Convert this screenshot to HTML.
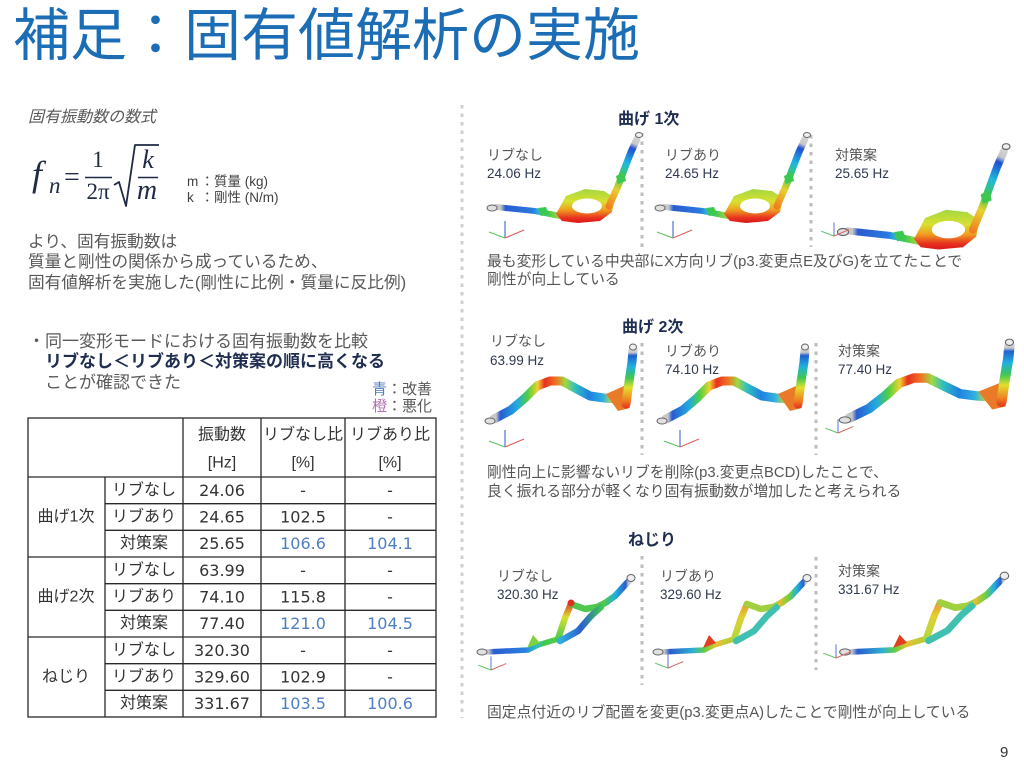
<!DOCTYPE html>
<html><head><meta charset="utf-8">
<style>
html,body{margin:0;padding:0;background:#fff;}
body{width:1024px;height:768px;position:relative;overflow:hidden;font-family:"Liberation Sans","Noto Sans CJK JP",sans-serif;}
.t{position:absolute;white-space:nowrap;line-height:1;}
svg{position:absolute;left:0;top:0;}
</style></head><body>
<svg width="1024" height="768" viewBox="0 0 1024 768">
<defs>
<linearGradient id="b1low" gradientUnits="userSpaceOnUse" x1="490" y1="0" x2="560" y2="0">
<stop offset="0" stop-color="#c8c8c8"/><stop offset="0.15" stop-color="#c8c8c8"/><stop offset="0.22" stop-color="#2a5cd0"/><stop offset="0.6" stop-color="#2a78e0"/><stop offset="0.72" stop-color="#30c0d0"/><stop offset="0.82" stop-color="#40c850"/><stop offset="1" stop-color="#a8d840"/>
</linearGradient>
<linearGradient id="b1ring" gradientUnits="userSpaceOnUse" x1="0" y1="190" x2="0" y2="223">
<stop offset="0" stop-color="#a8d840"/><stop offset="0.35" stop-color="#d8e030"/><stop offset="0.6" stop-color="#f0a020"/><stop offset="0.85" stop-color="#e83020"/><stop offset="1" stop-color="#d81818"/>
</linearGradient>
<linearGradient id="b1up" gradientUnits="userSpaceOnUse" x1="608" y1="208" x2="640" y2="134">
<stop offset="0" stop-color="#f07a20"/><stop offset="0.25" stop-color="#e8d030"/><stop offset="0.42" stop-color="#40c850"/><stop offset="0.6" stop-color="#20b8e0"/><stop offset="0.8" stop-color="#2050d0"/><stop offset="0.86" stop-color="#c8c8c8"/><stop offset="1" stop-color="#d8d8d8"/>
</linearGradient>
<linearGradient id="b2band" gradientUnits="userSpaceOnUse" x1="489" y1="0" x2="628" y2="0">
<stop offset="0" stop-color="#c8c8c8"/><stop offset="0.05" stop-color="#c8c8c8"/><stop offset="0.08" stop-color="#2a5cd0"/><stop offset="0.2" stop-color="#20a8e0"/><stop offset="0.28" stop-color="#50d040"/><stop offset="0.35" stop-color="#f0d030"/><stop offset="0.4" stop-color="#e83020"/><stop offset="0.48" stop-color="#f07020"/><stop offset="0.55" stop-color="#a0d840"/><stop offset="0.62" stop-color="#30c0c0"/><stop offset="0.72" stop-color="#2080e0"/><stop offset="0.82" stop-color="#30b0e0"/><stop offset="0.9" stop-color="#d0e030"/><stop offset="0.96" stop-color="#f07020"/><stop offset="1" stop-color="#e02020"/>
</linearGradient>
<linearGradient id="b2up" gradientUnits="userSpaceOnUse" x1="0" y1="410" x2="0" y2="346">
<stop offset="0" stop-color="#e02020"/><stop offset="0.15" stop-color="#f08020"/><stop offset="0.35" stop-color="#e0e030"/><stop offset="0.5" stop-color="#40c850"/><stop offset="0.68" stop-color="#20b0e0"/><stop offset="0.85" stop-color="#2060d0"/><stop offset="0.9" stop-color="#c8c8c8"/><stop offset="1" stop-color="#dddddd"/>
</linearGradient>
<linearGradient id="tlow" gradientUnits="userSpaceOnUse" x1="482" y1="0" x2="560" y2="0">
<stop offset="0" stop-color="#c8c8c8"/><stop offset="0.08" stop-color="#c8c8c8"/><stop offset="0.15" stop-color="#2a5cd0"/><stop offset="0.55" stop-color="#2a80e0"/><stop offset="0.7" stop-color="#30c0c0"/><stop offset="0.8" stop-color="#40c850"/><stop offset="1" stop-color="#60d040"/>
</linearGradient>
<linearGradient id="tleft" gradientUnits="userSpaceOnUse" x1="0" y1="640" x2="0" y2="602">
<stop offset="0" stop-color="#40c850"/><stop offset="0.6" stop-color="#d8e030"/><stop offset="1" stop-color="#e03020"/>
</linearGradient>
<linearGradient id="tright" gradientUnits="userSpaceOnUse" x1="560" y1="0" x2="602" y2="0">
<stop offset="0" stop-color="#30b0e0"/><stop offset="0.5" stop-color="#2a60d0"/><stop offset="1" stop-color="#40c850"/>
</linearGradient>
<linearGradient id="tup" gradientUnits="userSpaceOnUse" x1="604" y1="0" x2="633" y2="0">
<stop offset="0" stop-color="#50c850"/><stop offset="0.4" stop-color="#20b0e0"/><stop offset="0.75" stop-color="#2a5cd0"/><stop offset="0.85" stop-color="#c8c8c8"/><stop offset="1" stop-color="#dddddd"/>
</linearGradient>
<linearGradient id="tlow2" gradientUnits="userSpaceOnUse" x1="482" y1="0" x2="560" y2="0">
<stop offset="0" stop-color="#c8c8c8"/><stop offset="0.08" stop-color="#c8c8c8"/><stop offset="0.15" stop-color="#2a5cd0"/><stop offset="0.45" stop-color="#30b0d0"/><stop offset="0.6" stop-color="#60d040"/><stop offset="0.75" stop-color="#e8c030"/><stop offset="1" stop-color="#a0d040"/>
</linearGradient>
<linearGradient id="tleft2" gradientUnits="userSpaceOnUse" x1="0" y1="640" x2="0" y2="602">
<stop offset="0" stop-color="#b0d840"/><stop offset="0.6" stop-color="#e0d030"/><stop offset="1" stop-color="#f09030"/>
</linearGradient>
<linearGradient id="tup2" gradientUnits="userSpaceOnUse" x1="604" y1="0" x2="633" y2="0">
<stop offset="0" stop-color="#e0c030"/><stop offset="0.3" stop-color="#70d040"/><stop offset="0.6" stop-color="#20b0e0"/><stop offset="0.82" stop-color="#2a5cd0"/><stop offset="0.88" stop-color="#c8c8c8"/><stop offset="1" stop-color="#dddddd"/>
</linearGradient>

<g id="b1" fill="none" stroke-linecap="round" stroke-linejoin="round">
<path d="M496,207 L535,211 L560,216" stroke="url(#b1low)" stroke-width="6"/>
<polygon points="556,214 566,196 585,189 604,191 615,198 612,212 600,221 578,223 562,221" fill="url(#b1ring)" stroke="none"/>
<ellipse cx="587" cy="206" rx="15" ry="7.5" fill="#fff" stroke="none"/>
<path d="M609,206 L618,186 L624,170 L631,152 L637,139" stroke="url(#b1up)" stroke-width="7"/>
<polygon points="538,208 546,207 549,214 541,216" fill="#3cc850" stroke="none"/>
<polygon points="616,176 624,172 626,181 618,184" fill="#3cc850" stroke="none"/>
<ellipse cx="492" cy="208" rx="5" ry="3" fill="#e0e0e0" stroke="#666" stroke-width="1"/>
<ellipse cx="639" cy="135" rx="3.5" ry="2.5" fill="#eeeeee" stroke="#666" stroke-width="1"/>
</g>
<g id="b2" fill="none" stroke-linecap="round" stroke-linejoin="round">
<path d="M494,419 L511,410 L525,398 L537,386 L550,381 L562,381 L575,388 L590,396 L604,398 L617,399 L626,403" stroke="url(#b2band)" stroke-width="9"/>
<polygon points="606,394 624,386 630,408 618,411" fill="#e87a28" stroke="none"/>
<path d="M626,404 L629,382 L632,362 L633,350" stroke="url(#b2up)" stroke-width="9"/>
<ellipse cx="490" cy="421" rx="5" ry="3" fill="#e0e0e0" stroke="#666" stroke-width="1"/>
<ellipse cx="633" cy="347" rx="3.5" ry="3" fill="#eeeeee" stroke="#666" stroke-width="1"/>
</g>
<g id="t1" fill="none" stroke-linecap="round" stroke-linejoin="round">
<path d="M486,652 L528,650 L538,645 L558,639" stroke="url(#tlow)" stroke-width="5.5"/>
<polygon points="527,648 533,635 540,643" fill="#80d040" stroke="none"/>
<path d="M558,639 L565,618 L571,604" stroke="url(#tleft)" stroke-width="6.5"/>
<path d="M571,604 L585,609 L597,607 L607,602" stroke="#50c850" stroke-width="6.5"/>
<path d="M560,641 L578,631 L591,616 L601,607" stroke="url(#tright)" stroke-width="6.5"/>
<path d="M605,603 L615,596 L625,585 L631,579" stroke="url(#tup)" stroke-width="6.5"/>
<circle cx="571" cy="603" r="3.5" fill="#e03020" stroke="none"/>
<ellipse cx="482" cy="652" rx="5" ry="3" fill="#e0e0e0" stroke="#666" stroke-width="1"/>
<ellipse cx="631" cy="578" rx="4" ry="3.5" fill="#eeeeee" stroke="#666" stroke-width="1"/>
</g>
<g id="t2" fill="none" stroke-linecap="round" stroke-linejoin="round">
<path d="M486,652 L528,650 L538,645 L558,639" stroke="url(#tlow2)" stroke-width="5.5"/>
<polygon points="527,648 533,635 540,643" fill="#e04020" stroke="none"/>
<path d="M558,639 L565,618 L571,604" stroke="url(#tleft2)" stroke-width="6.5"/>
<path d="M571,604 L585,609 L597,607 L607,602" stroke="#a0d040" stroke-width="6.5"/>
<path d="M560,641 L578,631 L591,616 L601,607" stroke="#40c0b0" stroke-width="6.5"/>
<path d="M605,603 L615,596 L625,585 L631,579" stroke="url(#tup2)" stroke-width="6.5"/>
<ellipse cx="482" cy="652" rx="5" ry="3" fill="#e0e0e0" stroke="#666" stroke-width="1"/>
<ellipse cx="631" cy="578" rx="4" ry="3.5" fill="#eeeeee" stroke="#666" stroke-width="1"/>
</g>
<g id="tri" fill="none" stroke-width="1.2">
<path d="M0,0 L0,-17" stroke="#5070d0"/><path d="M0,0 L19,-8" stroke="#e06060"/><path d="M0,0 L-16,-6" stroke="#60c060"/>
</g>
</defs>

<!-- dividers -->
<g fill="none" stroke-width="3" stroke-dasharray="3.5 5">
<path d="M462,105 L462,718" stroke="#d0d0d0"/>
<path d="M642,133 L642,247 M811,135 L811,247" stroke="#bdbdbd"/>
<path d="M642,343 L642,455 M816,343 L816,455" stroke="#bdbdbd"/>
<path d="M642,556 L642,685 M816,557 L816,670" stroke="#bdbdbd"/>
</g>

<!-- bend 1 -->
<use href="#b1"/>
<use href="#b1" transform="translate(168,0)"/>
<use href="#b1" transform="translate(843,232) scale(1.11,1.17) translate(-492,-208)"/>
<!-- bend 2 -->
<use href="#b2"/>
<use href="#b2" transform="translate(172,0)"/>
<use href="#b2" transform="translate(845,420) scale(1.15,1.05) translate(-490,-421)"/>
<!-- torsion -->
<use href="#t1"/>
<use href="#t2" transform="translate(176,0)"/>
<use href="#t2" transform="translate(845,652) scale(1.07,1.03) translate(-482,-652)"/>
<!-- triads -->
<use href="#tri" transform="translate(505,238)"/>
<use href="#tri" transform="translate(673,238)"/>
<use href="#tri" transform="translate(834,236) scale(0.8)"/>
<use href="#tri" transform="translate(505,447)"/>
<use href="#tri" transform="translate(680,447)"/>
<use href="#tri" transform="translate(838,433) scale(0.8)"/>
<use href="#tri" transform="translate(491,670) scale(0.8)"/>
<use href="#tri" transform="translate(668,668) scale(0.8)"/>
<use href="#tri" transform="translate(836,658) scale(0.8)"/>

<!-- formula -->
<g fill="#1f2a44" font-family="'Liberation Serif',serif">
<text x="32" y="186" font-size="36" font-style="italic">f</text>
<text x="49" y="193" font-size="23" font-style="italic">n</text>
<text x="64" y="186" font-size="28">=</text>
<text x="98" y="167" font-size="23" text-anchor="middle">1</text>
<text x="98" y="199" font-size="23" text-anchor="middle">2π</text>
<text x="148" y="168" font-size="26" font-style="italic" text-anchor="middle">k</text>
<text x="147" y="199" font-size="28" font-style="italic" text-anchor="middle">m</text>
</g>
<g stroke="#1f2a44" fill="none">
<path d="M85,177.5 L112,177.5" stroke-width="1.5"/>
<path d="M138,177.5 L158,177.5" stroke-width="1.5"/>
<path d="M114,185 L119,182 L126,206 L135,145 L159,145" stroke-width="1.8" stroke-linejoin="round"/>
</g>

<!-- table -->
<g stroke="#2a2a2a" stroke-width="1.3" fill="none">
<rect x="28" y="418" width="408" height="299"/>
<path d="M28,477 H436 M28,557 H436 M28,637 H436"/>
<path d="M105,503.7 H436 M105,530.3 H436 M105,583.7 H436 M105,610.3 H436 M105,663.7 H436 M105,690.3 H436"/>
<path d="M105,477 V717 M183,418 V717 M261,418 V717 M345,418 V717"/>
</g>
<g font-family="'Liberation Sans','Noto Sans CJK JP',sans-serif" font-size="16" fill="#333" text-anchor="middle" dominant-baseline="central">
<text x="222" y="435">振動数</text><text x="222" y="463">[Hz]</text>
<text x="303" y="435">リブなし比</text><text x="303" y="463">[%]</text>
<text x="390" y="435">リブあり比</text><text x="390" y="463">[%]</text>
<text x="66" y="517">曲げ1次</text><text x="66" y="597">曲げ2次</text><text x="66" y="677">ねじり</text>
<text x="144" y="490.3">リブなし</text><text x="144" y="517">リブあり</text><text x="144" y="543.7">対策案</text>
<text x="144" y="570.3">リブなし</text><text x="144" y="597">リブあり</text><text x="144" y="623.7">対策案</text>
<text x="144" y="650.3">リブなし</text><text x="144" y="677">リブあり</text><text x="144" y="703.7">対策案</text>
<g font-size="16" font-family="'DejaVu Sans',sans-serif">
<text x="222" y="490.3">24.06</text><text x="222" y="517">24.65</text><text x="222" y="543.7">25.65</text>
<text x="222" y="570.3">63.99</text><text x="222" y="597">74.10</text><text x="222" y="623.7">77.40</text>
<text x="222" y="650.3">320.30</text><text x="222" y="677">329.60</text><text x="222" y="703.7">331.67</text>
<text x="303" y="490.3">-</text><text x="303" y="517">102.5</text><text x="303" y="543.7" fill="#4f7ec0">106.6</text>
<text x="303" y="570.3">-</text><text x="303" y="597">115.8</text><text x="303" y="623.7" fill="#4f7ec0">121.0</text>
<text x="303" y="650.3">-</text><text x="303" y="677">102.9</text><text x="303" y="703.7" fill="#4f7ec0">103.5</text>
<text x="390" y="490.3">-</text><text x="390" y="517">-</text><text x="390" y="543.7" fill="#4f7ec0">104.1</text>
<text x="390" y="570.3">-</text><text x="390" y="597">-</text><text x="390" y="623.7" fill="#4f7ec0">104.5</text>
<text x="390" y="650.3">-</text><text x="390" y="677">-</text><text x="390" y="703.7" fill="#4f7ec0">100.6</text>
</g>
</g>
</svg>

<!-- title -->
<div class="t" style="left:13px;top:8px;font-size:57px;color:#1b6db5;">補足：固有値解析の実施</div>

<!-- left column -->
<div class="t" style="left:28px;top:110px;font-size:16px;font-style:italic;color:#595959;">固有振動数の数式</div>
<div class="t" style="left:187px;top:175px;font-size:13.5px;color:#404040;"><span style="display:inline-block;width:13.5px">m</span>：質量 (kg)</div>
<div class="t" style="left:187px;top:190.5px;font-size:13.5px;color:#404040;"><span style="display:inline-block;width:13.5px">k</span>：剛性 (N/m)</div>
<div class="t" style="left:28px;top:231.75px;font-size:16.7px;line-height:20.5px;color:#595959;">より、固有振動数は<br>質量と剛性の関係から成っているため、<br>固有値解析を実施した(剛性に比例・質量に反比例)</div>
<div class="t" style="left:28px;top:331.5px;font-size:17px;line-height:20.5px;color:#595959;">・同一変形モードにおける固有振動数を比較<br><span style="padding-left:17px;font-weight:bold;color:#1f2d50;">リブなし＜リブあり＜対策案の順に高くなる</span><br><span style="padding-left:17px;">ことが確認できた</span></div>
<div class="t" style="right:592px;top:381.5px;font-size:15px;color:#595959;"><span style="color:#4f7ec0">青</span>：改善</div>
<div class="t" style="right:592px;top:398.5px;font-size:15px;color:#595959;"><span style="color:#b36fb3">橙</span>：悪化</div>

<!-- right: bend 1 -->
<div class="t" style="left:618px;top:112px;font-size:16px;font-weight:bold;color:#1f2d50;">曲げ 1次</div>
<div class="t" style="left:487px;top:148px;font-size:14px;color:#555;">リブなし</div>
<div class="t" style="left:487px;top:166.5px;font-size:13.5px;color:#2f3a4f;">24.06 Hz</div>
<div class="t" style="left:665px;top:148px;font-size:14px;color:#555;">リブあり</div>
<div class="t" style="left:665px;top:166.5px;font-size:13.5px;color:#2f3a4f;">24.65 Hz</div>
<div class="t" style="left:835px;top:148px;font-size:14px;color:#555;">対策案</div>
<div class="t" style="left:835px;top:166.5px;font-size:13.5px;color:#2f3a4f;">25.65 Hz</div>
<div class="t" style="left:487px;top:252.5px;font-size:14.8px;line-height:18px;color:#555;">最も変形している中央部にX方向リブ(p3.変更点E及びG)を立てたことで<br>剛性が向上している</div>

<!-- right: bend 2 -->
<div class="t" style="left:622px;top:320px;font-size:16px;font-weight:bold;color:#1f2d50;">曲げ 2次</div>
<div class="t" style="left:490px;top:334px;font-size:14px;color:#555;">リブなし</div>
<div class="t" style="left:490px;top:353.5px;font-size:13.5px;color:#2f3a4f;">63.99 Hz</div>
<div class="t" style="left:665px;top:344px;font-size:14px;color:#555;">リブあり</div>
<div class="t" style="left:665px;top:362.5px;font-size:13.5px;color:#2f3a4f;">74.10 Hz</div>
<div class="t" style="left:838px;top:344px;font-size:14px;color:#555;">対策案</div>
<div class="t" style="left:838px;top:362.5px;font-size:13.5px;color:#2f3a4f;">77.40 Hz</div>
<div class="t" style="left:487px;top:464px;font-size:14.8px;line-height:18.5px;color:#555;">剛性向上に影響ないリブを削除(p3.変更点BCD)したことで、<br>良く振れる部分が軽くなり固有振動数が増加したと考えられる</div>

<!-- right: torsion -->
<div class="t" style="left:628px;top:533px;font-size:16px;font-weight:bold;color:#1f2d50;">ねじり</div>
<div class="t" style="left:497px;top:569px;font-size:14px;color:#555;">リブなし</div>
<div class="t" style="left:497px;top:587.5px;font-size:13.5px;color:#2f3a4f;">320.30 Hz</div>
<div class="t" style="left:660px;top:569px;font-size:14px;color:#555;">リブあり</div>
<div class="t" style="left:660px;top:587.5px;font-size:13.5px;color:#2f3a4f;">329.60 Hz</div>
<div class="t" style="left:838px;top:564px;font-size:14px;color:#555;">対策案</div>
<div class="t" style="left:838px;top:582.5px;font-size:13.5px;color:#2f3a4f;">331.67 Hz</div>
<div class="t" style="left:487px;top:705.6px;font-size:14.8px;color:#555;">固定点付近のリブ配置を変更(p3.変更点A)したことで剛性が向上している</div>

<div class="t" style="left:1000px;top:745px;font-size:15px;color:#333;">9</div>
</body></html>
